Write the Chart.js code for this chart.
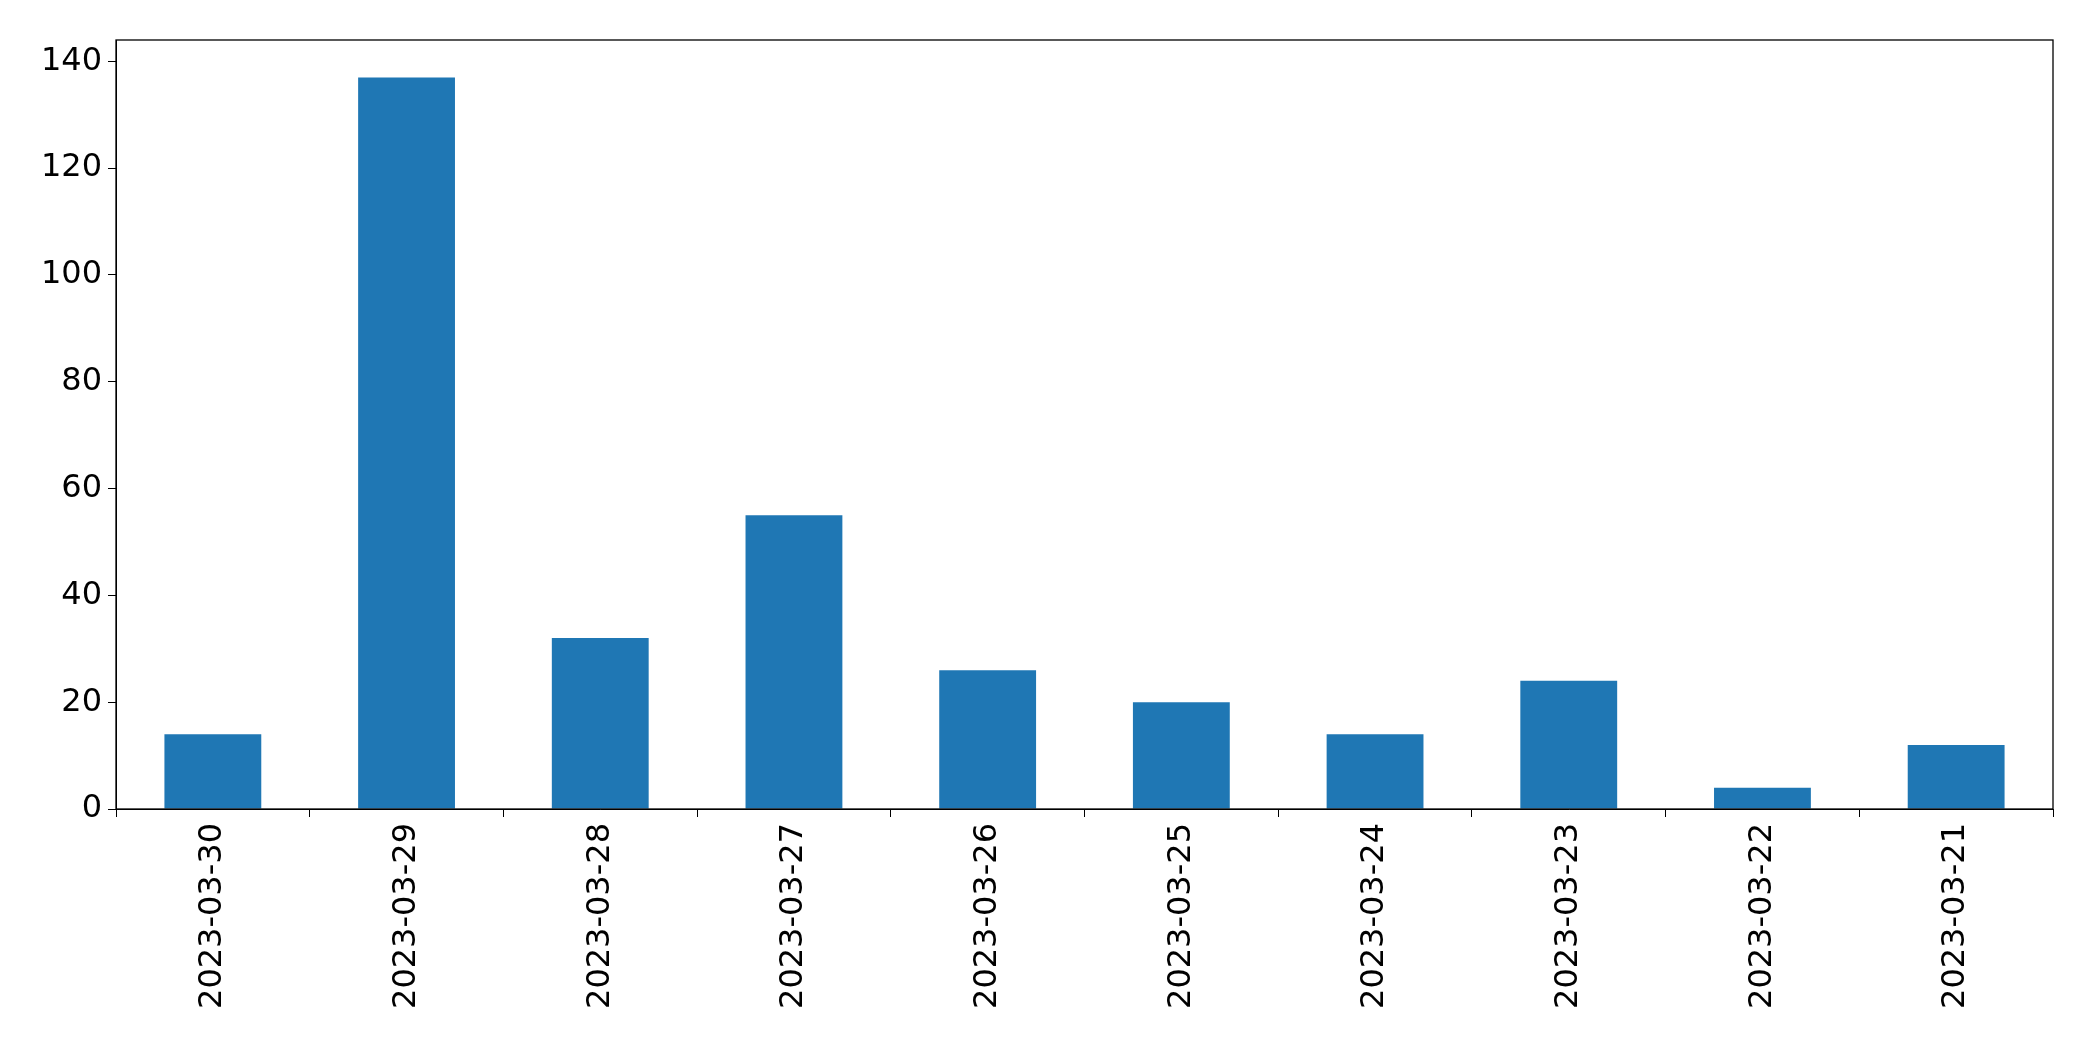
<!DOCTYPE html>
<html><head><meta charset="utf-8">
<script src="https://cdn.jsdelivr.net/npm/chart.js"></script>
<style>html,body{margin:0;padding:0;background:#fff}#w{width:2093px;height:1061px}</style>
</head><body><div id="w"><canvas id="c"></canvas></div>
<script>
const categories=["2023-03-30","2023-03-29","2023-03-28","2023-03-27","2023-03-26","2023-03-25","2023-03-24","2023-03-23","2023-03-22","2023-03-21"];
const values=[14,137,32,55,26,20,14,24,4,12];
const yTicks=[0,20,40,60,80,100,120,140];
const frame={id:'frame',afterDraw(ch){const a=ch.chartArea,c=ch.ctx;c.save();c.strokeStyle='#000';c.lineWidth=1.3;c.strokeRect(a.left,a.top,a.right-a.left,a.bottom-a.top);c.restore();}};
new Chart(document.getElementById('c'),{type:'bar',
data:{labels:categories,datasets:[{data:values,backgroundColor:'#1f77b4',barPercentage:0.5,categoryPercentage:1}]},
options:{responsive:true,maintainAspectRatio:false,animation:false,
layout:{padding:{top:40,right:40,left:0,bottom:0}},
plugins:{legend:{display:false},tooltip:{enabled:false}},
scales:{
x:{afterFit(s){s.height=252},grid:{drawOnChartArea:false,tickLength:8,color:'#000'},border:{color:'#000'},
ticks:{color:'#000',font:{family:'DejaVu Sans',size:32},maxRotation:90,minRotation:90,padding:6}},
y:{min:0,max:144,afterFit(s){s.width=116},afterBuildTicks(s){s.ticks=yTicks.map(v=>({value:v}))},
grid:{drawOnChartArea:false,tickLength:8,color:'#000'},border:{color:'#000'},
ticks:{color:'#000',font:{family:'DejaVu Sans',size:32},padding:6}}}},
plugins:[frame]});
</script></body></html>
